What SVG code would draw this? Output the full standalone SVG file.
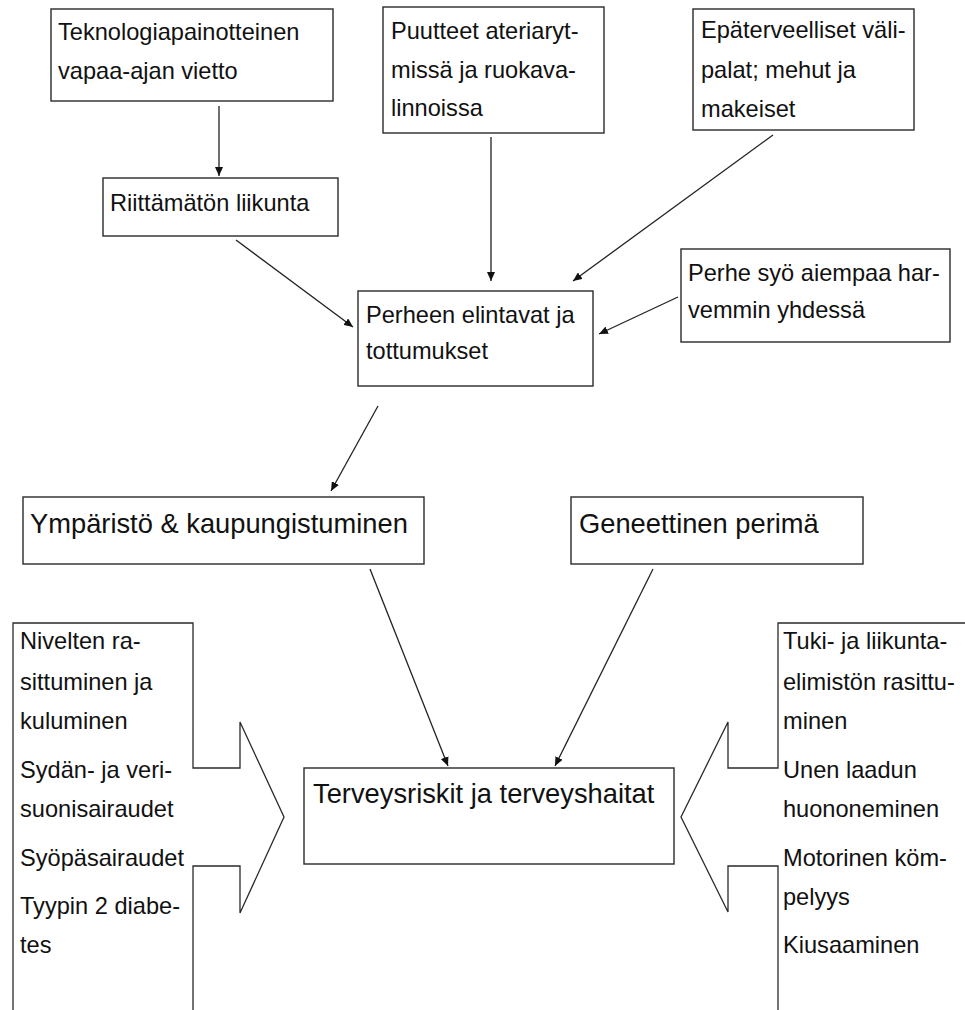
<svg xmlns="http://www.w3.org/2000/svg" width="965" height="1010" viewBox="0 0 965 1010">
<style>
.box{fill:#fff;stroke:#2a2a2a;stroke-width:1.4}
.big{fill:#fff;stroke:#2a2a2a;stroke-width:1.3}
.t{font-family:"Liberation Sans",Arial,sans-serif;font-size:23.6px;fill:#111}
.tl{font-family:"Liberation Sans",Arial,sans-serif;font-size:27.3px;fill:#111}
.c{fill:none;stroke:#222;stroke-width:1.3;marker-end:url(#ah)}
</style>
<defs>
<marker id="ah" markerUnits="userSpaceOnUse" markerWidth="10" markerHeight="8" refX="9" refY="4" orient="auto">
<path d="M0,0 L9,4 L0,8 z" fill="#111"/>
</marker>
</defs>
<rect width="965" height="1010" fill="#fff"/>
<g id="connectors">
<line class="c" x1="219" y1="106" x2="219" y2="176"/>
<line class="c" x1="236" y1="240" x2="353" y2="327"/>
<line class="c" x1="491" y1="137" x2="491" y2="281"/>
<line class="c" x1="773" y1="135" x2="573" y2="281"/>
<line class="c" x1="678" y1="297" x2="599" y2="334"/>
<line class="c" x1="378" y1="406" x2="331" y2="491"/>
<line class="c" x1="370" y1="569" x2="448" y2="766"/>
<line class="c" x1="653" y1="569" x2="555" y2="766"/>
</g>
<g id="n-tekno">
<rect class="box" x="51" y="9" width="282" height="92"/>
<text class="t" x="58" y="40">Teknologiapainotteinen</text>
<text class="t" x="58" y="79">vapaa-ajan vietto</text>
</g>
<g id="n-riittamaton">
<rect class="box" x="103" y="178" width="235" height="58"/>
<text class="t" x="110" y="211">Riittämätön liikunta</text>
</g>
<g id="n-puutteet">
<rect class="box" x="383" y="7" width="221" height="126"/>
<text class="t" x="391" y="39">Puutteet ateriaryt-</text>
<text class="t" x="391" y="78">missä ja ruokava-</text>
<text class="t" x="391" y="116">linnoissa</text>
</g>
<g id="n-epaterveelliset">
<rect class="box" x="693" y="9" width="221" height="121"/>
<text class="t" x="701" y="38">Epäterveelliset väli-</text>
<text class="t" x="701" y="78">palat; mehut ja</text>
<text class="t" x="701" y="117">makeiset</text>
</g>
<g id="n-perhe-syo">
<rect class="box" x="681" y="249" width="269" height="93"/>
<text class="t" x="688" y="281">Perhe syö aiempaa har-</text>
<text class="t" x="688" y="318">vemmin yhdessä</text>
</g>
<g id="n-perheen">
<rect class="box" x="358" y="291" width="235" height="95"/>
<text class="t" x="366" y="323">Perheen elintavat ja</text>
<text class="t" x="366" y="359">tottumukset</text>
</g>
<g id="n-ymparisto">
<rect class="box" x="23" y="497" width="401" height="67"/>
<text class="tl" x="30" y="533">Ympäristö &amp; kaupungistuminen</text>
</g>
<g id="n-geneettinen">
<rect class="box" x="571" y="497" width="292" height="67"/>
<text class="tl" x="579" y="533">Geneettinen perimä</text>
</g>
<g id="n-terveysriskit">
<rect class="box" x="304" y="768" width="370" height="96"/>
<text class="tl" x="313" y="803">Terveysriskit ja terveyshaitat</text>
</g>
<g id="n-left-arrow">
<path class="big" d="M13,1020 L13,623 L193,623 L193,768 L240,768 L240,722 L284,817 L240,913 L240,866 L193,866 L193,1020"/>
<text class="t" x="20" y="649">Nivelten ra-</text>
<text class="t" x="20" y="690">sittuminen ja</text>
<text class="t" x="20" y="729">kuluminen</text>
<text class="t" x="20" y="778">Sydän- ja veri-</text>
<text class="t" x="20" y="817">suonisairaudet</text>
<text class="t" x="20" y="866">Syöpäsairaudet</text>
<text class="t" x="20" y="914">Tyypin 2 diabe-</text>
<text class="t" x="20" y="953">tes</text>
</g>
<g id="n-right-arrow">
<path class="big" d="M975,623 L778,623 L778,768 L728,768 L728,722 L681,817 L728,912 L728,866 L778,866 L778,1020"/>
<text class="t" x="783" y="649">Tuki- ja liikunta-</text>
<text class="t" x="783" y="690">elimistön rasittu-</text>
<text class="t" x="783" y="729">minen</text>
<text class="t" x="783" y="778">Unen laadun</text>
<text class="t" x="783" y="817">huononeminen</text>
<text class="t" x="783" y="866">Motorinen köm-</text>
<text class="t" x="783" y="905">pelyys</text>
<text class="t" x="783" y="953">Kiusaaminen</text>
</g>
</svg>
